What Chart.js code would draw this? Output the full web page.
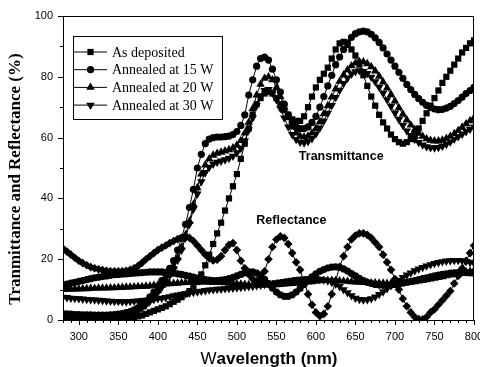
<!DOCTYPE html>
<html>
<head>
<meta charset="utf-8">
<script src="https://cdn.jsdelivr.net/npm/chart.js@4/dist/chart.umd.min.js"></script>
<style>
  html, body { margin: 0; padding: 0; background: #fff; }
  #chart { display: block; }
</style>
</head>
<body>
<canvas id="chart" width="480" height="367"></canvas>
<script>
// wavelength grid (nm), one sample every 5 nm
const wavelengths = Array.from({length: 105}, (_, i) => 280 + i * 5);

const seriesNames = ['As deposited', 'Annealed at 15 W', 'Annealed at 20 W', 'Annealed at 30 W'];

// transmittance (%)
const tAsDeposited = [
  0.5,0.5,0.4,0.4,0.3,0.3,0.3,0.2,0.2,0.2,
  0.2,0.2,0.2,0.3,0.3,0.4,0.5,0.7,0.9,1.2,
  1.5,2.0,2.5,3.0,3.5,4.0,4.5,5.2,6.0,6.7,
  7.5,8.5,9.5,11,12.5,15,18,21.5,25,28.5,
  32,36,40,44,48,53,58,63,67.5,71,
  73,74.5,75,74.5,73,71,69,67.5,66,65.5,
  65.5,67,70,73.5,76.5,79,81,83,86,89,
  91,91.5,90.5,89,87,84,80.5,77,73.5,70.5,
  67.5,65,63,61,59.5,58.5,58,58.5,59.5,61,
  63,65.5,68,70.5,73,75.5,78,80,82,84,
  86,88,89.5,91,92
];
const tAnneal15 = [
  2,2,1.9,1.8,1.8,1.7,1.7,1.7,1.6,1.6,
  1.6,1.6,1.7,1.8,1.9,2.1,2.4,2.8,3.3,4,
  5,6.2,7.6,9.2,11,13,15,17,19.5,23,
  27,31.5,37,43,50,54.5,58,59.5,60,60.2,
  60.2,60.3,60.5,61,62,64,67.5,74,79,83.5,
  86,86.5,85.5,82.5,79,75,71,67.5,65,63.5,
  63,63,63.5,65,67,70,73.5,77,80.5,84,
  86.5,89,91.2,93,94.2,94.8,95,94.8,94,92.8,
  91.3,89.5,87.5,85.5,83.5,81.5,79.5,77.5,75.8,74.2,
  72.8,71.6,70.6,69.9,69.4,69.2,69.3,69.7,70.3,71.2,
  72.2,73.3,74.5,75.5,76.5
];
const tAnneal20 = [
  1.5,1.5,1.4,1.4,1.3,1.3,1.3,1.2,1.2,1.2,
  1.2,1.2,1.3,1.4,1.5,1.7,2,2.4,2.9,3.5,
  4.3,5.3,6.6,8,9.6,11.3,13.2,15.2,17.5,20.5,
  24,28,32.5,38,43.5,48,51,53,54.2,54.8,
  55.2,55.6,56,56.6,57.5,59,61.5,65,69.5,74,
  77.5,79.5,80,79,76.5,73.5,70,66.5,63.5,61.5,
  60.5,60.2,60.5,61.5,63,65.2,67.8,70.5,73.3,76,
  78.5,80.6,82.3,83.6,84.5,85,84.9,84.3,83.3,81.9,
  80.2,78.3,76.3,74.2,72,69.8,67.7,65.8,64.1,62.6,
  61.4,60.4,59.6,59.1,58.9,58.9,59.2,59.7,60.4,61.3,
  62.3,63.4,64.5,65.5,66.5
];
const tAnneal30 = [
  1,1,1,0.9,0.9,0.9,0.9,0.9,0.9,0.9,
  0.9,1,1,1.1,1.2,1.4,1.7,2.1,2.6,3.2,
  4,5,6.2,7.6,9.1,10.8,12.6,14.6,16.9,19.7,
  23,27,31.5,36.5,41.5,45.5,48.5,50.3,51.3,51.9,
  52.3,52.7,53.2,53.9,55,56.5,59,62.5,66.5,70.5,
  73.8,75.5,75.8,74.8,72.5,69.6,66.5,63.5,61,59.4,
  58.5,58.3,58.7,59.7,61.2,63.2,65.5,68,70.6,73.2,
  75.6,77.8,79.6,80.9,81.7,82,81.8,81.1,79.9,78.4,
  76.6,74.6,72.5,70.3,68.1,66,64,62.2,60.7,59.4,
  58.4,57.6,57,56.7,56.6,56.8,57.2,57.8,58.6,59.5,
  60.3,61.1,62,62.8,63.5
];

// reflectance (%)
const rAsDeposited = [
  23.5,22.5,21.5,20.5,19.5,18.7,18,17.4,17,16.7,
  16.4,16.2,16,16,16,16,16.2,16.5,17,17.8,
  18.8,20,21,22,23,23.8,24.5,25.3,26,26.6,
  27,27.2,27,26,24.5,23,21.5,20.3,19.6,19.8,
  21,23,24.7,25.3,23,19.5,17,15,13.5,12.8,
  13.5,16,20,24,26.5,27.5,27,25,22,19,
  16.5,12.5,8.5,5,2.5,1.3,2,4.5,8.5,13,
  17.5,21,24,26.5,27.8,28.5,28.5,28,27,25.5,
  24,21.5,19,16.5,13.5,10,7,4.5,2.5,1,
  0.3,0.2,1,2.5,3.5,5,6.5,8,9.5,12,
  14.5,17,19.5,22,24.5
];
const rAnneal15 = [
  11.5,11.8,12.1,12.4,12.7,13,13.3,13.6,13.9,14.1,
  14.3,14.5,14.7,14.9,15,15.1,15.2,15.3,15.4,15.5,
  15.6,15.7,15.8,15.8,15.8,15.8,15.7,15.6,15.4,15.2,
  15,14.7,14.4,14.1,13.8,13.5,13.3,13.1,13,13,
  13.1,13.3,13.6,14,14.5,15,15.5,15.8,15.8,15.4,
  14.6,13.4,12,10.5,9.2,8.3,7.8,7.8,8.3,9.2,
  10.4,11.7,13,14.2,15.2,16,16.6,17.1,17.4,17.5,
  17.3,16.8,16.1,15.3,14.5,13.7,13,12.4,12,11.7,
  11.5,11.4,11.4,11.5,11.7,11.9,12.1,12.4,12.7,13,
  13.3,13.6,13.9,14.2,14.5,14.8,15,15.2,15.4,15.5,
  15.6,15.6,15.6,15.5,15.4
];
const rAnneal20 = [
  10,10.1,10.1,10.2,10.2,10.3,10.3,10.4,10.4,10.5,
  10.5,10.5,10.6,10.6,10.7,10.7,10.8,10.8,10.9,11,
  11,11.1,11.2,11.4,11.5,11.6,11.8,11.9,12,12.1,
  12.2,12.3,12.4,12.5,12.5,12.5,12.5,12.4,12.4,12.3,
  12.3,12.2,12.1,12,11.9,11.8,11.7,11.6,11.5,11.5,
  11.5,11.5,11.5,11.6,11.6,11.7,11.8,11.9,12,12.1,
  12.3,12.4,12.5,12.6,12.8,12.9,13,13,13,12.9,
  12.9,12.8,12.7,12.6,12.5,12.4,12.3,12.3,12.2,12.2,
  12.1,12.1,12,12,12,12,12.1,12.2,12.4,12.6,
  12.8,13,13.2,13.5,13.7,14,14.2,14.5,14.8,15,
  15.3,15.5,15.8,16,16.3
];
const rAnneal30 = [
  7.5,7.4,7.2,7.1,7,6.9,6.8,6.7,6.6,6.5,
  6.4,6.3,6.2,6.1,6.1,6,6,6.1,6.2,6.3,
  6.4,6.5,6.6,6.8,7,7.2,7.4,7.7,8,8.2,
  8.5,8.7,8.9,9.1,9.3,9.5,9.7,9.9,10,10.1,
  10.2,10.3,10.4,10.5,10.6,10.7,10.9,11,11.1,11.3,
  11.5,11.7,11.9,12.1,12.3,12.5,12.7,12.9,13.1,13.3,
  13.4,13.5,13.6,13.6,13.5,13.4,13.2,12.9,12.4,11.8,
  11,10,9,8,7.2,6.8,6.6,6.7,7,7.6,
  8.4,9.3,10.3,11.3,12.2,13.1,14,14.8,15.5,16.2,
  16.8,17.3,17.8,18.2,18.6,18.9,19.2,19.4,19.5,19.6,
  19.6,19.5,19.3,19,18.7
];

const xTickValues = [300, 350, 400, 450, 500, 550, 600, 650, 700, 750, 800];
const yTickValues = [0, 20, 40, 60, 80, 100];

// marker per sample
const markers = [
  {pointStyle: 'rect', radius: 4.4, rotation: 0},
  {pointStyle: 'circle', radius: 3.6, rotation: 0},
  {pointStyle: 'triangle', radius: 4.9, rotation: 0},
  {pointStyle: 'triangle', radius: 4.9, rotation: 180}
];
const diamond = {pointStyle: 'rectRot', radius: 4.3, rotation: 0};

function series(values, m, label) {
  return {
    label: label,
    data: wavelengths.map((w, i) => ({x: w, y: values[i]})),
    borderColor: '#000',
    backgroundColor: '#000',
    borderWidth: 1,
    pointStyle: m.pointStyle,
    pointRadius: m.radius,
    pointRotation: m.rotation,
    pointBorderWidth: 0,
    pointBackgroundColor: '#000',
    tension: 0,
    clip: 0
  };
}

const tSeries = [tAsDeposited, tAnneal15, tAnneal20, tAnneal30];
const rSeries = [rAsDeposited, rAnneal15, rAnneal20, rAnneal30];

const datasets = [];
tSeries.forEach((v, i) => datasets.push(series(v, markers[i], seriesNames[i])));
rSeries.forEach((v, i) => datasets.push(series(v, i === 0 ? diamond : markers[i], seriesNames[i] + ' R')));

const sans = '"Liberation Sans", Arial, sans-serif';
const serif = '"Liberation Serif", "Times New Roman", serif';

// frame, minor/major ticks, titles, labels and the boxed legend
const decorations = {
  id: 'decorations',
  afterDraw(chart) {
    const {ctx, chartArea: a, scales: {x, y}} = chart;
    ctx.save();
    ctx.strokeStyle = '#000';
    ctx.fillStyle = '#000';
    ctx.lineWidth = 1;
    ctx.strokeRect(a.left + 0.5, a.top + 0.5, a.right - a.left - 1, a.bottom - a.top);

    ctx.beginPath();
    for (let v = 280; v <= 800; v += 10) {
      const px = Math.round(x.getPixelForValue(v)) + 0.5;
      const len = v % 50 === 0 ? 5 : 3;
      ctx.moveTo(px, a.bottom);
      ctx.lineTo(px, a.bottom + len);
    }
    for (let v = 0; v <= 100; v += 10) {
      const py = Math.round(y.getPixelForValue(v)) + 0.5;
      const len = v % 20 === 0 ? 5 : 3;
      ctx.moveTo(a.left, py);
      ctx.lineTo(a.left - len, py);
    }
    ctx.stroke();

    // axis titles
    ctx.save();
    ctx.translate(16, 179);
    ctx.rotate(-Math.PI / 2);
    ctx.font = 'bold 17px ' + serif;
    ctx.textAlign = 'center';
    ctx.textBaseline = 'middle';
    ctx.fillText('Tranmittance and Reflectance (%)', 0, 0);
    ctx.restore();

    ctx.textBaseline = 'alphabetic';
    ctx.textAlign = 'left';
    ctx.font = '17px ' + sans;
    const wW = ctx.measureText('W').width;
    ctx.font = 'bold 17px ' + sans;
    const restW = ctx.measureText('avelength (nm)').width;
    const x0 = 269 - (wW + restW) / 2;
    ctx.font = '17px ' + sans;
    ctx.fillText('W', x0, 364);
    ctx.font = 'bold 17px ' + sans;
    ctx.fillText('avelength (nm)', x0 + wW, 364);

    // curve group labels
    ctx.font = 'bold 12.5px ' + sans;
    ctx.textAlign = 'center';
    ctx.textBaseline = 'middle';
    ctx.fillText('Transmittance', x.getPixelForValue(632), y.getPixelForValue(53.8));
    ctx.fillText('Reflectance', x.getPixelForValue(569), y.getPixelForValue(32.7));

    // legend
    const box = {left: 73, top: 36, width: 149, height: 83};
    ctx.fillStyle = '#fff';
    ctx.fillRect(box.left, box.top, box.width, box.height);
    ctx.strokeRect(box.left + 0.5, box.top + 0.5, box.width, box.height);
    ctx.fillStyle = '#000';
    ctx.font = '14px ' + serif;
    ctx.textAlign = 'left';
    seriesNames.forEach((name, i) => {
      const cy = 52 + i * 17.7;
      ctx.beginPath();
      ctx.moveTo(74, cy);
      ctx.lineTo(107, cy);
      ctx.stroke();
      const m = markers[i];
      Chart.helpers.drawPoint(ctx, {pointStyle: m.pointStyle, rotation: m.rotation, radius: m.radius, borderWidth: 0}, 90.5, cy);
      ctx.fillText(name, 112, cy + 1);
    });
    ctx.restore();
  }
};

new Chart(document.getElementById('chart'), {
  type: 'line',
  data: {datasets: datasets},
  options: {
    responsive: false,
    animation: false,
    devicePixelRatio: 1,
    layout: {padding: {top: 16, right: 6, left: 0, bottom: 0}},
    plugins: {legend: {display: false}, tooltip: {enabled: false}},
    scales: {
      x: {
        type: 'linear',
        min: 280,
        max: 800,
        grid: {display: false, drawTicks: false},
        border: {display: false},
        afterBuildTicks: s => { s.ticks = xTickValues.map(v => ({value: v})); },
        afterFit: s => { s.height = 47; s.paddingLeft = 0; s.paddingRight = 0; },
        ticks: {
          autoSkip: false,
          maxRotation: 0,
          padding: 10,
          color: '#000',
          font: {family: sans, size: 11}
        }
      },
      y: {
        type: 'linear',
        min: 0,
        max: 100,
        grid: {display: false, drawTicks: false},
        border: {display: false},
        afterBuildTicks: s => { s.ticks = yTickValues.map(v => ({value: v})); },
        afterFit: s => { s.width = 63; s.paddingTop = 0; s.paddingBottom = 0; },
        ticks: {
          padding: 10,
          color: '#000',
          font: {family: sans, size: 11}
        }
      }
    }
  },
  plugins: [decorations]
});
</script>
</body>
</html>
